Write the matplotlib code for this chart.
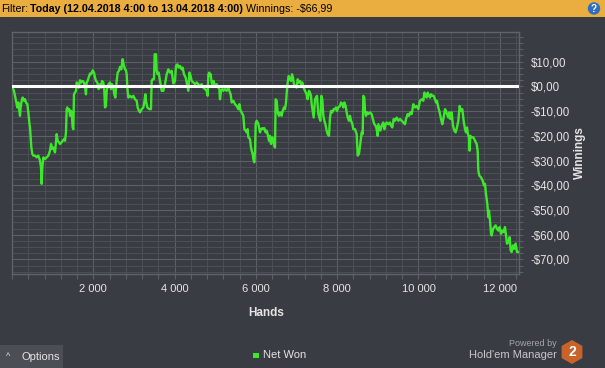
import matplotlib
matplotlib.use("Agg")
import matplotlib.pyplot as plt
from matplotlib.ticker import MultipleLocator, FixedLocator, FuncFormatter
from matplotlib.patches import Rectangle, RegularPolygon, Circle

# Net won (hands played -> winnings in $)
hands = [
    0, 49, 74, 115, 131, 156, 180, 197, 213, 238, 262, 295, 320, 344, 377, 402, 426, 443, 459, 476,
    500, 525, 566, 607, 648, 689, 713, 730, 746, 771, 812, 853, 894, 935, 960, 992, 1017, 1058, 1099, 1124,
    1156, 1181, 1222, 1246, 1279, 1304, 1328, 1345, 1361, 1386, 1410, 1427, 1451, 1468, 1492, 1509, 1525, 1550, 1574, 1591,
    1615, 1640, 1673, 1706, 1738, 1771, 1804, 1820, 1837, 1861, 1886, 1919, 1943, 1968, 1984, 2017, 2042, 2066, 2099, 2132,
    2165, 2189, 2214, 2247, 2271, 2288, 2312, 2329, 2353, 2378, 2411, 2435, 2460, 2493, 2517, 2542, 2575, 2600, 2632, 2657,
    2690, 2722, 2755, 2780, 2804, 2821, 2837, 2862, 2903, 2944, 2985, 3026, 3067, 3091, 3124, 3149, 3190, 3231, 3255, 3280,
    3296, 3329, 3378, 3419, 3436, 3460, 3493, 3510, 3542, 3559, 3583, 3608, 3641, 3682, 3723, 3764, 3805, 3846, 3887, 3928,
    3969, 4010, 4034, 4067, 4100, 4133, 4174, 4198, 4231, 4272, 4297, 4338, 4363, 4395, 4420, 4461, 4502, 4543, 4584, 4625,
    4666, 4707, 4748, 4789, 4814, 4830, 4855, 4871, 4887, 4912, 4937, 4961, 4994, 5035, 5076, 5101, 5117, 5142, 5174, 5199,
    5240, 5281, 5322, 5347, 5379, 5404, 5445, 5486, 5527, 5568, 5593, 5625, 5650, 5691, 5716, 5748, 5773, 5798, 5814, 5855,
    5880, 5896, 5921, 5937, 5962, 5978, 5994, 6019, 6044, 6060, 6101, 6126, 6158, 6183, 6208, 6240, 6265, 6290, 6322, 6347,
    6372, 6404, 6429, 6454, 6470, 6486, 6511, 6536, 6568, 6593, 6634, 6659, 6691, 6716, 6741, 6765, 6782, 6806, 6839, 6864,
    6888, 6913, 6937, 6962, 7003, 7028, 7060, 7085, 7110, 7142, 7175, 7208, 7249, 7274, 7306, 7331, 7356, 7372, 7397, 7421,
    7454, 7479, 7503, 7536, 7561, 7585, 7610, 7634, 7659, 7684, 7708, 7741, 7766, 7798, 7823, 7848, 7880, 7913, 7946, 7971,
    7995, 8028, 8069, 8094, 8126, 8151, 8176, 8208, 8233, 8258, 8290, 8315, 8340, 8372, 8397, 8438, 8479, 8504, 8536, 8561,
    8586, 8602, 8627, 8643, 8668, 8684, 8709, 8733, 8766, 8807, 8848, 8889, 8914, 8946, 8971, 8996, 9012, 9037, 9061, 9094,
    9135, 9160, 9192, 9217, 9258, 9299, 9324, 9356, 9389, 9422, 9463, 9504, 9545, 9586, 9627, 9668, 9693, 9734, 9766, 9799,
    9832, 9873, 9914, 9955, 9996, 10037, 10078, 10119, 10144, 10176, 10201, 10226, 10258, 10283, 10308, 10340, 10373, 10406, 10431, 10455,
    10488, 10521, 10554, 10586, 10619, 10652, 10677, 10701, 10734, 10759, 10783, 10816, 10849, 10882, 10914, 10947, 10980, 11013, 11046, 11078,
    11111, 11144, 11169, 11193, 11218, 11242, 11259, 11275, 11308, 11349, 11390, 11431, 11456, 11472, 11497, 11538, 11579, 11611, 11636, 11661,
    11693, 11718, 11734, 11759, 11784, 11800, 11833, 11866, 11898, 11931, 11964, 11997, 12030, 12062, 12095, 12128, 12153, 12177, 12210, 12243,
    12267, 12292, 12325, 12358, 12390, 12423, 12450,
]
winnings = [
    0.0, -1.8, -3.8, -7.2, -8.5, -6.5, -9.9, -11.9, -8.5, -5.8, -4.5, -5.8, -5.2, -6.5, -7.2, -10.5, -14.6, -16.6, -20.6, -24.7,
    -27.3, -28.0, -28.0, -28.7, -28.0, -30.0, -32.7, -39.4, -32.7, -28.7, -29.4, -28.7, -28.0, -26.0, -23.3, -25.3, -24.7, -26.7, -19.3, -22.0,
    -22.6, -23.3, -22.6, -22.0, -21.3, -22.0, -18.6, -9.2, -8.5, -9.9, -9.2, -11.9, -9.9, -10.5, -16.6, -17.3, -3.2, -2.5, -1.8, 1.6,
    0.9, -0.5, 2.5, 1.6, 2.2, 1.6, -1.1, -3.2, 1.6, 2.2, 3.6, 5.2, 4.9, 5.6, 6.5, 5.6, 3.6, 2.2, 1.6, -1.1,
    0.9, -0.5, 2.2, 1.6, -1.8, -8.5, -7.9, -1.8, 0.2, 0.9, 1.6, -1.1, 0.9, -0.5, -3.2, -4.5, 2.2, 5.6, 6.3, 7.9,
    6.9, 11.0, 8.3, 6.9, 6.5, 4.9, -0.5, -4.5, -3.8, -4.5, -3.8, -5.2, -5.8, -8.5, -9.9, -10.5, -9.2, -8.5, -6.5, -3.2,
    -5.8, -8.5, -9.2, -9.2, 2.2, 2.9, 2.9, 13.0, 13.0, 6.3, 4.9, 5.6, 2.2, -1.8, -1.8, 0.9, 4.9, 6.9, 5.6, 6.3,
    1.2, 2.2, 8.3, 8.9, 7.6, 8.3, 6.9, 7.6, 4.9, 3.6, 1.6, -1.8, 5.6, 4.2, 2.2, 1.6, 0.9, 1.6, 0.9, 0.2,
    0.9, -0.5, -1.1, -1.8, -3.8, 4.9, 5.6, 4.2, 4.9, 1.6, 0.2, 2.2, 0.2, 0.9, -0.5, -1.1, -5.2, -1.8, -1.1, -1.8,
    -1.1, -1.8, -0.5, -1.8, -3.2, -6.5, -5.8, -7.2, -7.9, -9.2, -7.2, -9.9, -10.5, -11.9, -17.3, -17.9, -18.6, -17.3, -20.6, -21.3,
    -24.7, -26.0, -27.3, -29.4, -30.7, -26.0, -15.2, -13.9, -14.6, -15.2, -18.6, -17.3, -16.9, -17.3, -16.9, -18.6, -17.9, -19.3, -22.0, -20.0,
    -23.3, -20.6, -22.0, -24.0, -24.7, -5.2, -5.8, -10.5, -11.9, -10.5, -11.9, -9.9, -8.5, -9.2, -6.5, -1.1, 1.6, 4.2, 2.9, 2.2,
    4.9, 3.6, 0.9, 0.2, -0.5, 2.9, 1.6, 2.2, 0.9, 1.6, -0.5, -1.8, -3.2, -5.2, -1.8, -2.5, -3.8, -7.2, -9.9, -12.6,
    -5.2, -4.5, -3.8, -11.2, -12.6, -13.9, -3.8, -5.2, -11.9, -13.9, -15.2, -17.9, -19.3, -20.0, -12.6, -9.9, -10.5, -9.2, -9.2, -8.5,
    -9.9, -8.5, -7.9, -6.5, -7.2, -8.5, -6.5, -7.9, -10.5, -12.6, -13.9, -11.9, -13.9, -15.2, -17.3, -17.3, -19.3, -28.0, -27.3, -24.3,
    -20.6, -18.6, -19.3, -3.8, -4.5, -9.9, -11.9, -10.5, -11.2, -10.5, -11.2, -13.9, -15.3, -15.9, -17.3, -20.0, -15.3, -16.6, -17.9, -15.9,
    -14.6, -17.3, -15.3, -14.6, -15.3, -14.6, -15.9, -16.6, -13.2, -13.9, -12.6, -13.9, -13.2, -13.9, -14.6, -15.3, -13.2, -11.2, -11.9, -10.5,
    -11.2, -7.2, -8.5, -7.9, -9.2, -5.8, -5.2, -5.8, -2.5, -3.8, -4.5, -2.5, -3.8, -4.5, -3.2, -3.8, -3.8, -5.2, -6.5, -5.8,
    -8.5, -10.5, -13.2, -15.3, -12.6, -9.2, -9.9, -11.2, -12.6, -10.5, -13.2, -10.5, -15.9, -17.9, -18.6, -16.6, -13.9, -7.9, -9.9, -9.2,
    -13.9, -17.3, -18.6, -16.6, -19.3, -20.6, -26.0, -20.0, -20.6, -20.6, -22.0, -23.3, -26.0, -34.1, -36.1, -36.8, -38.1, -40.1, -39.4, -43.5,
    -47.5, -52.9, -50.2, -54.2, -59.6, -60.3, -57.6, -56.9, -56.2, -57.6, -58.3, -56.9, -59.6, -58.3, -58.9, -56.9, -60.3, -63.6, -63.0, -61.0,
    -66.3, -67.0, -64.3, -65.7, -63.6, -67.0, -67.0,
]

x_ticks = [2000, 4000, 6000, 8000, 10000, 12000]
y_ticks = [10, 0, -10, -20, -30, -40, -50, -60, -70]

BG = "#393c42"
ORANGE = "#eaad3f"
GREEN = "#3ee62c"
TXT = "#e4e4e4"
GRID_MAJ = "#5d6066"
GRID_MIN = "#4b4e54"

W, H = 605, 368
plt.rcParams["font.family"] = ["Liberation Sans", "DejaVu Sans"]

fig = plt.figure(figsize=(W / 100, H / 100), dpi=100)
fig.patch.set_facecolor(BG)

# main chart, placed in pixels
l, r, t, b = 12, 519.3, 32, 274.3
ax = fig.add_axes([l / W, 1 - b / H, (r - l) / W, (b - t) / H])
ax.set_facecolor(BG)

ax.plot(hands, winnings, color=GREEN, lw=1.7, zorder=3)
ax.axhline(0, color="white", lw=2.2, zorder=4)

ax.set_xlim(0, 12480)
ax.set_ylim(-76, 22)

ax.xaxis.set_major_locator(FixedLocator(x_ticks))
ax.xaxis.set_minor_locator(MultipleLocator(400))
ax.yaxis.set_major_locator(FixedLocator(y_ticks))
ax.yaxis.set_minor_locator(MultipleLocator(2.5))
ax.xaxis.set_major_formatter(FuncFormatter(lambda v, p: f"{int(v):,}".replace(",", " ")))


def money(v, p):
    s = f"${abs(v):.2f}".replace(".", ",")
    return "-" + s if v < 0 else s


ax.yaxis.set_major_formatter(FuncFormatter(money))
ax.yaxis.tick_right()

ax.grid(which="major", color=GRID_MAJ, lw=0.8, zorder=0)
ax.grid(which="minor", color=GRID_MIN, lw=0.8, zorder=0)
ax.set_axisbelow(True)

ax.tick_params(axis="x", which="both", direction="out", color=GRID_MAJ, length=3.6,
               width=0.8, labelcolor=TXT, labelsize=8, pad=3.5)
ax.tick_params(axis="y", which="both", direction="out", color=GRID_MAJ, length=2.8,
               width=0.8, labelcolor=TXT, labelsize=8.3, pad=5.5, left=False, right=True)
for sp in ax.spines.values():
    sp.set_color("#606368")
    sp.set_linewidth(1.0)

# overlay in pixel space for the app chrome
deco = fig.add_axes([0, 0, 1, 1], facecolor="none")
deco.set_xlim(0, W)
deco.set_ylim(H, 0)
deco.axis("off")

deco.add_patch(Rectangle((0, 0), W, 17, color=ORANGE, lw=0))
deco.text(1, 8.5, "Filter:", fontsize=7.7, color="black", va="center")
deco.text(30, 8.5, "Today (12.04.2018 4:00 to 13.04.2018 4:00)", fontsize=7.7,
          fontweight="bold", color="black", va="center")
deco.text(246, 8.5, "Winnings: -$66,99", fontsize=7.7, color="black", va="center")
deco.add_patch(Circle((594, 8.5), 6.2, color="#2f6fc0", lw=0))
deco.text(594, 8.8, "?", fontsize=7, color="white", fontweight="bold", ha="center", va="center")

deco.text(266, 312.5, "Hands", fontsize=8.5, fontweight="bold", color=TXT, ha="center", va="center")
deco.text(580, 153, "Winnings", fontsize=8.5, fontweight="bold", color=TXT, ha="center",
          va="center", rotation=90)

# legend
deco.add_patch(Rectangle((253, 352.5), 5.5, 5.5, color=GREEN, lw=0))
deco.text(263, 355.5, "Net Won", fontsize=8, color=TXT, va="center")

# options button
deco.add_patch(Rectangle((0, 345), 63, 23, color="#4b4e54", lw=0))
deco.text(6, 357, "^", fontsize=6.5, color=TXT, va="center")
deco.text(21, 357, "Options", fontsize=8, color=TXT, va="center")

# powered by
deco.text(557, 343, "Powered by", fontsize=6.5, color="#a4a6aa", ha="right", va="center")
deco.text(557, 355, "Hold'em Manager", fontsize=8, color="#c4c6ca", ha="right", va="center")
deco.add_patch(RegularPolygon((572, 352), 6, radius=12, orientation=0, color="#c8642a", lw=0))
deco.text(572, 352, "2", fontsize=10, fontweight="bold", color="white", ha="center", va="center")

fig.savefig("out.png", dpi=100, facecolor=BG)
